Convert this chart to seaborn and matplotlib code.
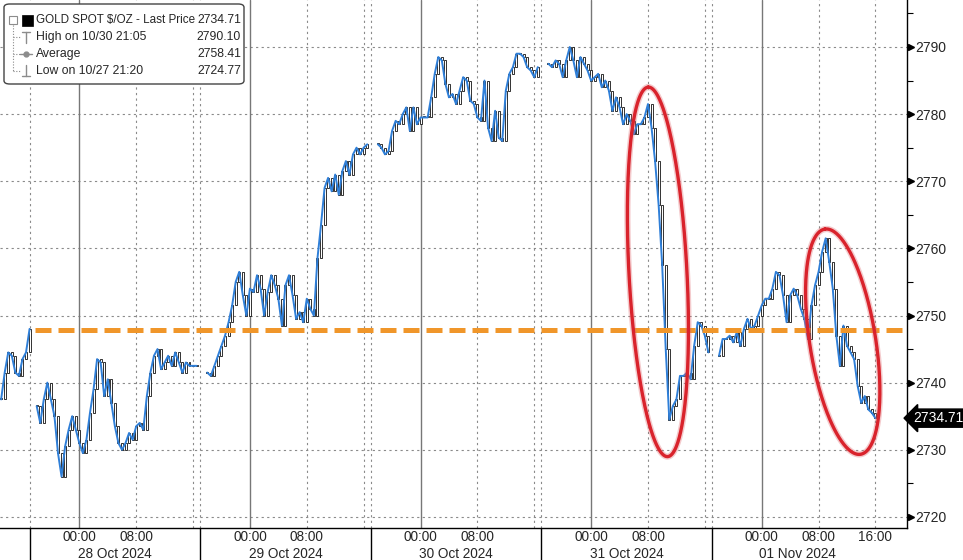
import numpy as np
import pandas as pd
import matplotlib
matplotlib.use("Agg")
import matplotlib.pyplot as plt
import matplotlib.transforms as mtransforms
from matplotlib.patches import FancyBboxPatch, Rectangle
from matplotlib.lines import Line2D
import seaborn as sns

# Gold spot, 30-minute closes.
# hours are counted from 00:00 28 Oct 2024 (weekend gap removed, as on the terminal)
session_start = [-11.0, -6.0, 18.0, 42.0, 66.0, 90.0]
fri_25 = [2737.5, 2741.5, 2744.5, 2744.0, 2741.5, 2741.0, 2743.5, 2744.5, 2748.0]
mon_28 = [2736.5, 2734.0, 2737.5, 2740.0, 2737.5, 2735.0, 2729.5, 2726.0, 2730.5, 2733.0,
          2735.0, 2733.0, 2731.0, 2729.5, 2731.5, 2735.5, 2739.0, 2743.5, 2743.0, 2738.0,
          2740.5, 2737.0, 2733.5, 2731.0, 2730.0, 2731.0, 2732.5, 2731.5, 2733.5, 2734.0,
          2733.0, 2738.0, 2741.5, 2744.0, 2745.0, 2742.0, 2743.0, 2744.0, 2742.5, 2744.5,
          2743.0, 2741.5, 2743.0, 2742.5, 2742.5, 2742.5]
tue_29 = [2741.5, 2741.0, 2742.5, 2744.0, 2745.5, 2747.0, 2749.0, 2751.5, 2755.0, 2756.5,
          2753.0, 2750.0, 2754.0, 2753.5, 2756.0, 2754.0, 2750.0, 2753.5, 2756.0, 2754.5,
          2752.5, 2748.5, 2754.5, 2756.0, 2753.0, 2749.5, 2750.5, 2749.0, 2752.5, 2751.0,
          2750.0, 2758.5, 2763.5, 2769.0, 2770.5, 2768.5, 2771.0, 2768.0, 2771.5, 2773.0,
          2771.0, 2774.0, 2775.0, 2774.0, 2775.0, 2775.5]
wed_30 = [2775.5, 2775.0, 2774.0, 2774.5, 2777.5, 2779.0, 2778.5, 2780.0, 2781.0, 2777.5,
          2781.0, 2778.5, 2779.5, 2779.5, 2779.5, 2782.5, 2786.0, 2788.5, 2788.0, 2784.5,
          2782.5, 2783.0, 2781.5, 2783.5, 2785.5, 2785.0, 2782.0, 2781.5, 2779.5, 2779.0,
          2785.0, 2778.0, 2776.0, 2780.5, 2776.5, 2776.0, 2783.5, 2786.0, 2787.0, 2789.0,
          2789.0, 2788.5, 2787.0, 2786.5, 2785.5, 2787.0]
thu_31 = [2787.5, 2787.0, 2788.0, 2787.5, 2785.5, 2788.0, 2790.0, 2788.0, 2785.5, 2788.5,
          2787.5, 2786.5, 2785.0, 2785.5, 2786.0, 2784.0, 2785.0, 2783.5, 2780.5, 2782.5,
          2781.0, 2778.5, 2780.0, 2779.0, 2777.0, 2778.5, 2778.5, 2779.5, 2781.5, 2778.0,
          2773.0, 2766.5, 2757.5, 2745.0, 2734.5, 2736.5, 2737.5, 2741.0, 2741.0, 2741.5,
          2740.5, 2745.5, 2749.0, 2748.5, 2747.0, 2744.5]
fri_01 = [2744.0, 2746.5, 2746.5, 2747.0, 2746.0, 2747.5, 2745.5, 2748.0, 2749.5, 2748.0,
          2748.5, 2750.0, 2751.5, 2752.5, 2752.5, 2754.0, 2756.5, 2756.0, 2753.0, 2749.0,
          2753.0, 2754.0, 2753.0, 2751.0, 2749.5, 2746.5, 2751.5, 2754.5, 2756.5, 2759.5,
          2761.5, 2758.0, 2754.0, 2747.0, 2742.5, 2748.5, 2745.5, 2744.5, 2743.5, 2739.5,
          2737.0, 2738.0, 2736.0, 2735.5, 2734.7]
sessions = [fri_25, mon_28, tue_29, wed_30, thu_31, fri_01]

last_price = 2734.71
high_price, high_label = 2790.10, "High on 10/30 21:05"
avg_price = 2758.41
low_price, low_label = 2724.77, "Low on 10/27 21:20"
marked_level = 2747.8          # the orange dashed line drawn on the chart

y_ticks = [2720, 2730, 2740, 2750, 2760, 2770, 2780, 2790]
x_tick_hours = [0, 8, 24, 32, 48, 56, 72, 80, 96, 104, 112]
x_tick_labels = ["00:00", "08:00"] * 5 + ["16:00"]
day_breaks = [-7, 17, 41, 65, 89]            # 17:00 session break
day_labels = ["28 Oct 2024", "29 Oct 2024", "30 Oct 2024", "31 Oct 2024", "01 Nov 2024"]
midnights = [0, 24, 48, 72, 96]
dotted_hours = [-7, 8, 16, 17, 32, 40, 41, 56, 64, 65, 80, 88, 89, 104, 112]

# red rings: centre (hour, price), half axes in px, tilt in degrees
rings = [(81.4, 2756.5, 185, 29, 93), (107.4, 2746.1, 114, 33, 99)]

frames = []
for i, (start, closes) in enumerate(zip(session_start, sessions)):
    frames.append(pd.DataFrame({"hour": start + 0.5 * np.arange(len(closes)),
                                "close": closes, "session": i}))
df = pd.concat(frames, ignore_index=True)
df["open"] = df.groupby("session")["close"].shift(1).fillna(df["close"])

sns.set_style("white")
plt.rcParams["font.family"] = ["Liberation Sans", "DejaVu Sans"]

W, H = 963, 560
fig = plt.figure(figsize=(W / 100, H / 100), dpi=100)
ax = fig.add_axes([0, 31.7 / H, 906.7 / W, 528.3 / H])
xlim = (-11.16, 116.4)
ylim = (2718.3, 2797.0)
ax.set_xlim(*xlim)
ax.set_ylim(*ylim)

# grid
for y in y_ticks:
    ax.axhline(y, color="#8a8a8a", lw=0.8, ls=(0, (2, 3)), zorder=0)
for h in dotted_hours:
    ax.axvline(h, color="#8a8a8a", lw=0.8, ls=(0, (2, 3)), zorder=0)
for h in midnights:
    ax.axvline(h, color="#777777", lw=1.0, zorder=0)

# hollow candles, open = previous close
bottoms = np.minimum(df["open"], df["close"])
heights = (df["close"] - df["open"]).abs().clip(lower=0.15)
ax.bar(df["hour"], heights, bottom=bottoms, width=0.28,
       color="white", edgecolor="#111111", lw=0.6, zorder=2)

sns.lineplot(data=df, x="hour", y="close", units="session", estimator=None,
             color="#2f7fd8", lw=1.4, ax=ax, zorder=3, legend=False)

ax.hlines(marked_level, df.loc[df.session == 1, "hour"].min() - 0.3, xlim[1],
          color="#f0962a", lw=3.6, linestyles=[(0, (3.2, 1.4))], zorder=4, clip_on=False)

sx = ax.get_position().width * W / (xlim[1] - xlim[0])
sy = ax.get_position().height * H / (ylim[1] - ylim[0])
t = np.linspace(0, 2 * np.pi, 300)
for cx, cy, a, b, ang in rings:
    th = np.deg2rad(ang)
    dx = a * np.cos(t) * np.cos(th) - b * np.sin(t) * np.sin(th)
    dy = a * np.cos(t) * np.sin(th) + b * np.sin(t) * np.cos(th)
    ax.plot(cx + dx / sx, cy + dy / sy, color="#e06a70", lw=4.5, alpha=0.35, zorder=5)
    ax.plot(cx + dx / sx, cy + dy / sy, color="#d9232c", lw=2.4, zorder=5)

ax.set_xlabel("")
ax.set_ylabel("")
for s in ["left", "top"]:
    ax.spines[s].set_visible(False)
for s in ["right", "bottom"]:
    ax.spines[s].set_color("black")
    ax.spines[s].set_linewidth(1.0)

# y axis on the right
ax.yaxis.tick_right()
ax.set_yticks(y_ticks)
ax.set_yticks([v + 5 for v in y_ticks[:-1]] + [2795], minor=True)
ax.tick_params(axis="y", which="major", length=0, pad=6.5, labelsize=10)
ax.tick_params(axis="y", which="minor", length=4, width=0.8, direction="out", color="black")
yx = mtransforms.blended_transform_factory(ax.transAxes, ax.transData)
ax.plot([1.0045] * len(y_ticks), y_ticks, marker=">", ls="none", ms=4.5, color="black",
        transform=yx, clip_on=False)
ax.text(1.0 + 7 / 906.7, last_price, f"{last_price:.2f}", transform=yx, color="white",
        fontsize=10, va="center", ha="left",
        bbox=dict(boxstyle="larrow,pad=0.15", fc="black", ec="black"))

# x axis
ax.set_xticks(x_tick_hours)
ax.set_xticklabels(x_tick_labels)
ax.set_xticks(np.arange(-4, 117, 4), minor=True)
ax.tick_params(axis="x", which="both", length=4, width=0.8, direction="out",
               color="black", pad=-2.5, labelsize=9.8)
xb = mtransforms.blended_transform_factory(ax.transData, ax.transAxes)
for h in day_breaks:
    ax.plot([h, h], [0, -0.07], color="black", lw=1.0, transform=xb, clip_on=False)
for h, lab in zip(day_breaks, day_labels):
    ax.text(h + 12, -0.049, lab, transform=xb, ha="center", va="center", fontsize=9.8)

# legend box in pixel coords
def fx(x):
    return x / W

def fy(y):
    return 1 - y / H

fig.patches.append(FancyBboxPatch((fx(4), fy(84)), fx(240), 80 / H,
                                  boxstyle="round,pad=0,rounding_size=0.006",
                                  transform=fig.transFigure, fc="white", ec="#444444",
                                  lw=1.0, zorder=10))
rows_y = [20, 37, 54, 70.5]
names = ["GOLD SPOT $/OZ - Last Price", high_label, "Average", low_label]
vals = [last_price, high_price, avg_price, low_price]
for y, name, v in zip(rows_y, names, vals):
    fig.text(fx(36), fy(y), name, fontsize=8.4 if name.startswith("GOLD") else 8.8,
             va="center", ha="left", zorder=11)
    fig.text(fx(241), fy(y), f"{v:.2f}", fontsize=8.8, va="center", ha="right", zorder=11)
grey = "#8c8c8c"
def seg(x0, y0, x1, y1, **kw):
    fig.lines.append(Line2D([fx(x0), fx(x1)], [fy(y0), fy(y1)], transform=fig.transFigure,
                            zorder=11, **kw))
seg(13, 25, 13, 70.5, color=grey, lw=0.8, ls=(0, (1, 1.5)))
for y in rows_y[1:]:
    seg(13, y, 20, y, color=grey, lw=0.8, ls=(0, (1, 1.5)))
fig.patches.append(Rectangle((fx(9), fy(24)), fx(8), 8 / H, transform=fig.transFigure,
                             fc="white", ec=grey, lw=0.8, zorder=11))
seg(10.5, 20, 15.5, 20, color=grey, lw=0.8)
fig.patches.append(Rectangle((fx(22), fy(25.5)), fx(10.5), 10.5 / H, transform=fig.transFigure,
                             fc="black", ec="black", lw=0.5, zorder=11))
seg(22, 31.5, 30, 31.5, color=grey, lw=1.0)
seg(26, 31.5, 26, 42.5, color=grey, lw=1.0)
seg(20, 54, 32, 54, color=grey, lw=1.0)
fig.lines.append(Line2D([fx(26)], [fy(54)], marker="o", ms=3.5, color=grey,
                        transform=fig.transFigure, zorder=12))
seg(26, 65, 26, 76, color=grey, lw=1.0)
seg(22, 76, 30, 76, color=grey, lw=1.0)

fig.savefig("out.png", dpi=100, facecolor="white")
